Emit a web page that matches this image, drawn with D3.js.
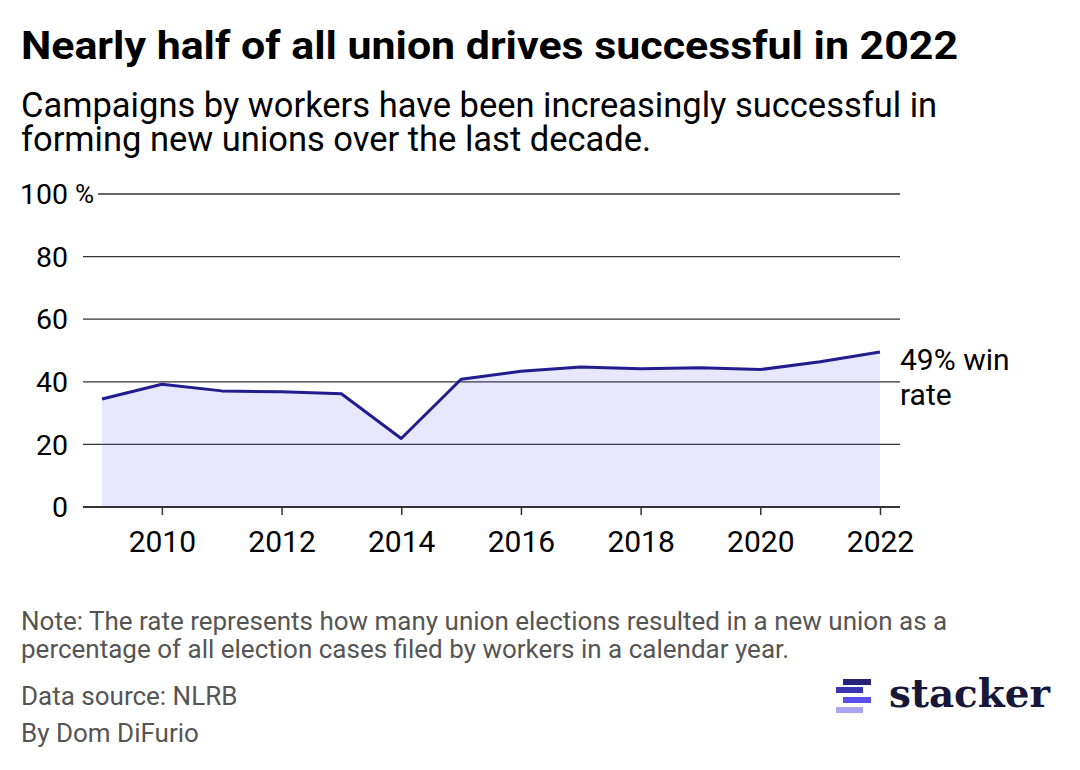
<!DOCTYPE html>
<html>
<head>
<meta charset="utf-8">
<script src="https://cdn.jsdelivr.net/npm/d3@7"></script>
<style>
  html, body { margin: 0; padding: 0; background: #fff; }
  svg { display: block; font-family: Roboto, "Noto Sans", sans-serif; }
</style>
</head>
<body>
<svg id="chart" width="1080" height="770"></svg>
<script>
// ---- data ----
const years = [2009, 2010, 2011, 2012, 2013, 2014, 2015, 2016, 2017, 2018, 2019, 2020, 2021, 2022];
const winRate = [34.5, 39.2, 37.1, 36.8, 36.2, 21.9, 40.8, 43.4, 44.7, 44.2, 44.5, 43.9, 46.4, 49.5];
const yTicks = [0, 20, 40, 60, 80, 100];
const xTicks = [2010, 2012, 2014, 2016, 2018, 2020, 2022];
const titleText = "Nearly half of all union drives successful in 2022";
const subtitleLines = ["Campaigns by workers have been increasingly successful in", "forming new unions over the last decade."];
const noteLines = ["Note: The rate represents how many union elections resulted in a new union as a", "percentage of all election cases filed by workers in a calendar year."];
const sourceText = "Data source: NLRB";
const bylineText = "By Dom DiFurio";
const endLabelLines = ["49% win", "rate"];

const svg = d3.select("#chart");

// ---- header ----
svg.append("text").attr("x", 21).attr("y", 58.5)
  .attr("font-size", 38).attr("font-weight", 700).attr("fill", "#000")
  .attr("textLength", 937).attr("lengthAdjust", "spacingAndGlyphs")
  .text(titleText);
svg.append("g").selectAll("text").data(subtitleLines).join("text")
  .attr("x", 21).attr("y", (d, i) => 117 + i * 33.5)
  .attr("font-size", 34.5).attr("fill", "#000")
  .text(d => d);

// ---- scales ----
const x = d3.scaleLinear().domain([2009, 2022]).range([102, 880]);
const y = d3.scaleLinear().domain([0, 100]).range([507, 194]);

// ---- gridlines ----
const grid = svg.append("g");
grid.selectAll("line").data(yTicks.filter(t => t > 0)).join("line")
  .attr("x1", d => d === 100 ? 98 : 83).attr("x2", 900)
  .attr("y1", d => y(d)).attr("y2", d => y(d))
  .attr("stroke", "#333").attr("stroke-width", 1.3);

// ---- area + line ----
const pts = years.map((yr, i) => ({ yr, v: winRate[i] }));
svg.append("path").datum(pts)
  .attr("d", d3.area().x(d => x(d.yr)).y0(y(0)).y1(d => y(d.v)))
  .attr("fill", "#6a5cf2").attr("fill-opacity", 0.15);

// baseline
svg.append("line").attr("x1", 83).attr("x2", 900).attr("y1", y(0)).attr("y2", y(0))
  .attr("stroke", "#333").attr("stroke-width", 2);

svg.append("path").datum(pts)
  .attr("d", d3.line().x(d => x(d.yr)).y(d => y(d.v)))
  .attr("fill", "none").attr("stroke", "#211d8f").attr("stroke-width", 3)
  .attr("stroke-linejoin", "round");

// ---- y axis labels ----
const yl = svg.append("g");
yl.selectAll("text").data(yTicks).join("text")
  .attr("x", 68).attr("y", d => y(d)).attr("dy", "0.36em")
  .attr("text-anchor", "end").attr("font-size", 28.5).attr("fill", "#000")
  .text(d => d);
yl.append("text").attr("x", 75).attr("y", y(100)).attr("dy", "0.36em")
  .attr("font-size", 26).attr("fill", "#000").text("%");

// ---- x axis ----
const xAxis = d3.axisBottom(x).tickValues(xTicks).tickFormat(d3.format("d"))
  .tickSize(8).tickPadding(16);
const xg = svg.append("g").attr("transform", `translate(0,${y(0)})`).call(xAxis);
xg.select(".domain").remove();
xg.selectAll(".tick line").attr("stroke", "#333").attr("stroke-width", 1.5);
xg.selectAll(".tick text").attr("font-size", 30).attr("fill", "#000")
  .attr("font-family", "Roboto, sans-serif");

// ---- end label ----
svg.append("g").selectAll("text").data(endLabelLines).join("text")
  .attr("x", 900).attr("y", (d, i) => 370 + i * 35)
  .attr("font-size", 30).attr("fill", "#000").text(d => d);

// ---- notes / footer ----
svg.append("g").selectAll("text").data(noteLines).join("text")
  .attr("x", 21).attr("y", (d, i) => 630 + i * 27.5)
  .attr("font-size", 26).attr("fill", "#555").text(d => d);
svg.append("text").attr("x", 21).attr("y", 705).attr("font-size", 26).attr("fill", "#555").text(sourceText);
svg.append("text").attr("x", 21).attr("y", 742).attr("font-size", 26).attr("fill", "#555").text(bylineText);

// ---- stacker logo ----
const logo = svg.append("g");
const bars = [
  { x: 843, y: 679, w: 28, c: "#26227a" },
  { x: 836, y: 687, w: 27, c: "#3a35b0" },
  { x: 843, y: 697, w: 28, c: "#5a4fe8" },
  { x: 836, y: 707, w: 27, c: "#aaa5f2" }
];
logo.selectAll("rect").data(bars).join("rect")
  .attr("x", d => d.x).attr("y", d => d.y).attr("width", d => d.w).attr("height", 6)
  .attr("fill", d => d.c);
logo.append("text").attr("x", 889).attr("y", 707)
  .attr("font-family", "'DejaVu Serif', 'Liberation Serif', serif").attr("font-weight", 700)
  .attr("font-size", 40).attr("fill", "#17173a")
  .attr("textLength", 161).attr("lengthAdjust", "spacingAndGlyphs")
  .text("stacker");
</script>
</body>
</html>
